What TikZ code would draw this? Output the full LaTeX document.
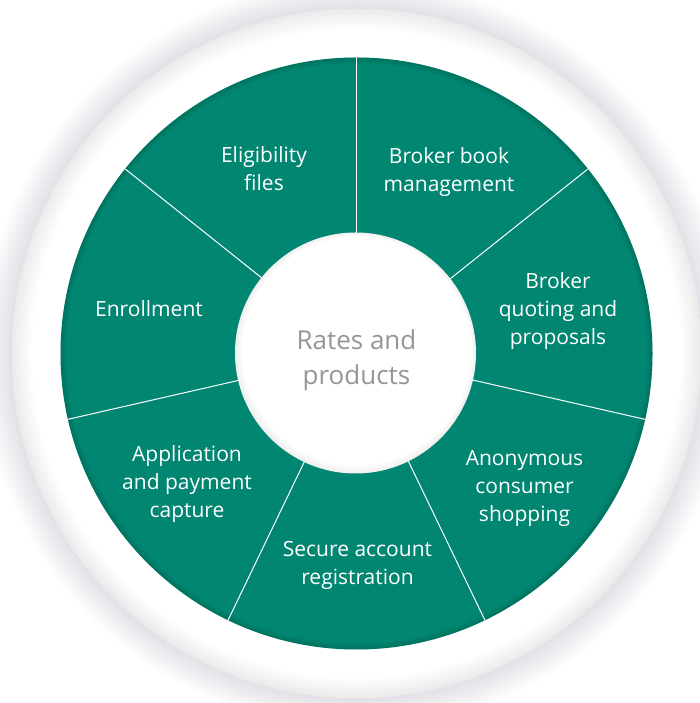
\documentclass[tikz,border=0pt]{standalone}
\usepackage{fontspec}
\setmainfont{Open Sans}
\usetikzlibrary{calc}
\definecolor{wheelgreen}{RGB}{0,134,113}
\definecolor{hubgray}{RGB}{150,150,150}
\tikzset{
    segment/.style={text=white, align=center, font=\fontsize{21}{28}\selectfont},
    divider/.style={draw=white, line width=1pt},
    hubtext/.style={text=hubgray, align=center, font=\fontsize{26}{35}\selectfont}
}

\begin{document}
\begin{tikzpicture}[x=1pt,y=1pt]
    \useasboundingbox (0,0) rectangle (699,703);
    % centres
    \coordinate (cen) at (356.5,349.5);
    \coordinate (hub) at (355.5,350);
    % shadow round the outer ring
    \foreach \i in {1,...,30}
        \fill[black!80!blue, opacity=0.0035] (cen) circle[radius=345+\i];
    \fill[white] (cen) circle[radius=345];
    \foreach \i in {1,...,10}
        \fill[black, opacity=0.007, even odd rule] (cen) circle[radius=345] (cen) circle[radius=345-2*\i];
    % green wheel
    \fill[wheelgreen] (cen) circle[radius=296];
    \foreach \i in {1,...,6}
        \fill[black, opacity=0.02, even odd rule] (cen) circle[radius=296] (cen) circle[radius=296-\i];
    % dividers
    \foreach \a in {0,...,6}
        \draw[divider] ($(cen)+(90-\a*51.43:118)$) -- ($(cen)+(90-\a*51.43:296)$);
    % hub
    \fill[white] (hub) circle[radius=120.5];
    \foreach \i in {1,...,5}
        \fill[black, opacity=0.012, even odd rule] (hub) circle[radius=120.5] ($(hub)+(0.3*\i,0.4*\i)$) circle[radius=120.5-1.2*\i];
    % labels
    \node[segment] (elig) at (264,534) {Eligibility\\files};
    \node[segment] (book) at (449,531) {Broker book\\management};
    \node[segment] (quote) at (558,392) {Broker\\quoting and\\proposals};
    \node[segment] (anon) at (524.5,215) {Anonymous\\consumer\\shopping};
    \node[segment] (secure) at (357.5,138) {Secure account\\registration};
    \node[segment] (appl) at (187,219) {Application\\and payment\\capture};
    \node[segment] (enrol) at (149,394) {Enrollment};
    \node[hubtext] (rates) at (356.5,343) {Rates and\\products};
\end{tikzpicture}
\end{document}
